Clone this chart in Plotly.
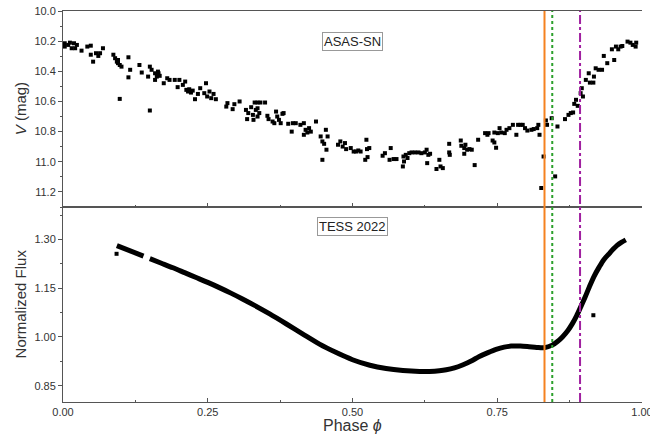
import plotly.graph_objects as go

# ---------------- data ----------------
asas_phase = [
    0.003, 0.003, 0.009, 0.012, 0.015, 0.019, 0.021, 0.024, 0.032, 0.042, 0.048, 0.048, 0.052, 0.057,
    0.061, 0.064, 0.069, 0.087, 0.090, 0.093, 0.095, 0.098, 0.101, 0.095, 0.113, 0.116, 0.113, 0.098,
    0.132, 0.136, 0.147, 0.150, 0.153, 0.159, 0.162, 0.159, 0.164, 0.150,
    0.165, 0.167, 0.174, 0.180, 0.184, 0.193, 0.198, 0.201, 0.207, 0.211, 0.213, 0.216, 0.218, 0.221,
    0.224, 0.228, 0.233, 0.237, 0.244, 0.247, 0.249, 0.253, 0.256, 0.260, 0.264, 0.282, 0.284, 0.293,
    0.296, 0.305, 0.316, 0.318, 0.320, 0.325, 0.328, 0.329, 0.331, 0.333,
    0.336, 0.341, 0.349, 0.336, 0.339, 0.336, 0.353, 0.355, 0.362, 0.365, 0.368, 0.370, 0.373, 0.376,
    0.379, 0.381, 0.389, 0.395, 0.397, 0.402, 0.410, 0.416, 0.416, 0.419, 0.422, 0.425, 0.428, 0.437,
    0.445, 0.448, 0.451, 0.454, 0.457, 0.455, 0.448, 0.475, 0.479, 0.483, 0.487, 0.489, 0.497, 0.502,
    0.506, 0.510, 0.514, 0.524, 0.525, 0.529, 0.522, 0.526, 0.552, 0.556, 0.566, 0.564, 0.571, 0.576,
    0.587, 0.589, 0.588, 0.592, 0.595, 0.598, 0.602, 0.608, 0.614, 0.619, 0.625, 0.628, 0.631, 0.634,
    0.629, 0.645, 0.650, 0.652, 0.656, 0.667, 0.667, 0.668,
    0.687, 0.688, 0.693, 0.695, 0.693, 0.698, 0.702, 0.706, 0.711, 0.717, 0.729, 0.733, 0.735, 0.742,
    0.745, 0.748, 0.745, 0.751, 0.754, 0.757, 0.763, 0.766, 0.771, 0.777, 0.783, 0.786, 0.790, 0.794,
    0.798, 0.802, 0.809, 0.813, 0.819, 0.821, 0.823, 0.830, 0.826, 0.834, 0.836,
    0.844, 0.850, 0.854, 0.867, 0.873, 0.877, 0.881, 0.883, 0.886, 0.889, 0.894, 0.896, 0.898, 0.903,
    0.908, 0.910, 0.916, 0.917, 0.920, 0.925, 0.931, 0.934, 0.940, 0.948, 0.952, 0.955, 0.959, 0.963,
    0.966, 0.975, 0.980, 0.984, 0.990, 0.989,
]
asas_mag = [
    10.214, 10.236, 10.225, 10.210, 10.247, 10.214, 10.247, 10.225, 10.263, 10.236, 10.230, 10.290, 10.336, 10.280,
    10.298, 10.280, 10.247, 10.290, 10.313, 10.336, 10.346, 10.358, 10.369, 10.325, 10.307, 10.390, 10.440, 10.583,
    10.358, 10.408, 10.435, 10.369, 10.390, 10.413, 10.435, 10.457, 10.402, 10.660,
    10.413, 10.430, 10.479, 10.446, 10.457, 10.457, 10.505, 10.457, 10.490, 10.468, 10.523, 10.534, 10.519, 10.541,
    10.528, 10.585, 10.550, 10.512, 10.545, 10.479, 10.567, 10.534, 10.578, 10.550, 10.585, 10.634, 10.611, 10.651,
    10.618, 10.600, 10.656, 10.717, 10.677, 10.638, 10.689, 10.722, 10.607, 10.656,
    10.607, 10.607, 10.607, 10.645, 10.677, 10.700, 10.695, 10.717, 10.733, 10.744, 10.667, 10.700, 10.722, 10.744,
    10.682, 10.677, 10.748, 10.800, 10.744, 10.744, 10.755, 10.744, 10.821, 10.788, 10.806, 10.777, 10.800, 10.733,
    10.832, 10.865, 10.881, 10.788, 10.832, 10.920, 10.987, 10.887, 10.865, 10.899, 10.876, 10.916, 10.909, 10.932,
    10.932, 10.925, 10.932, 10.854, 10.916, 10.909, 10.987, 10.969, 10.960, 10.943, 10.909, 10.987, 10.982, 10.982,
    11.031, 10.998, 10.965, 10.954, 10.975, 10.943, 10.938, 10.938, 10.938, 10.943, 10.938, 10.920, 10.954, 10.947,
    11.009, 11.048, 10.987, 11.031, 11.042, 10.881, 10.938, 10.954,
    10.859, 10.894, 10.909, 10.887, 10.947, 10.920, 10.916, 10.920, 11.022, 10.854, 10.810, 10.821, 10.810, 10.859,
    10.872, 10.907, 10.806, 10.810, 10.777, 10.806, 10.810, 10.788, 10.777, 10.755, 10.821, 10.755, 10.755, 10.755,
    10.777, 10.793, 10.788, 10.783, 10.777, 10.755, 10.821, 10.965, 11.174, 10.726, 10.755,
    10.711, 11.097, 10.766, 10.717, 10.689, 10.677, 10.673, 10.616, 10.589, 10.629, 10.545, 10.512, 10.567, 10.457,
    10.413, 10.475, 10.475, 10.435, 10.380, 10.390, 10.390, 10.298, 10.346, 10.254, 10.325, 10.236, 10.254, 10.236,
    10.232, 10.203, 10.210, 10.225, 10.210, 10.236,
]

# TESS 2022 light curve (two stretches separated by a small data gap)
tess_phase_a = [0.093, 0.105, 0.118, 0.130, 0.139]
tess_flux_a = [1.281, 1.273, 1.265, 1.256, 1.249]
tess_phase_b = [0.150, 0.170, 0.190, 0.210, 0.230, 0.250, 0.270, 0.290, 0.310, 0.330, 0.357, 0.386,
                0.415, 0.443, 0.472, 0.500, 0.530, 0.558, 0.587, 0.616, 0.633, 0.650, 0.662, 0.676,
                0.690, 0.705, 0.719, 0.734, 0.748, 0.762, 0.774, 0.790, 0.805, 0.818, 0.831, 0.845,
                0.854, 0.863, 0.872, 0.880, 0.887, 0.894, 0.902, 0.909, 0.917, 0.926, 0.934, 0.943,
                0.950, 0.957, 0.965, 0.972]
tess_flux_b = [1.241, 1.227, 1.213, 1.198, 1.183, 1.168, 1.152, 1.135, 1.117, 1.098, 1.071, 1.040,
               1.008, 0.978, 0.952, 0.930, 0.913, 0.903, 0.897, 0.894, 0.894, 0.896, 0.899, 0.905,
               0.914, 0.926, 0.940, 0.952, 0.962, 0.969, 0.972, 0.972, 0.970, 0.968, 0.967, 0.975,
               0.986, 1.001, 1.020, 1.042, 1.065, 1.092, 1.124, 1.154, 1.186, 1.215, 1.238, 1.256,
               1.270, 1.282, 1.292, 1.299]
tess_out_phase = [0.0925, 0.916]
tess_out_flux = [1.256, 1.067]

# Marker phases (vertical lines)
line_phases = [0.8316, 0.845, 0.893]
line_colors = ["#F58220", "#2CA02C", "#A020A0"]
line_dashes = ["solid", "dot", "dashdot"]

x_ticks = [0.0, 0.25, 0.5, 0.75, 1.0]
x_ticklabels = ["0.00", "0.25", "0.50", "0.75", "1.00"]
v_ticks = [10.0, 10.2, 10.4, 10.6, 10.8, 11.0, 11.2]
f_ticks = [0.85, 1.00, 1.15, 1.30]

# ---------------- figure ----------------
fig = go.Figure()
fig.add_trace(go.Scatter(x=asas_phase, y=asas_mag, mode="markers",
                         marker=dict(symbol="square", size=4, color="black"),
                         xaxis="x", yaxis="y", showlegend=False))
fig.add_trace(go.Scatter(x=tess_phase_a, y=tess_flux_a, mode="lines",
                         line=dict(color="black", width=5),
                         xaxis="x2", yaxis="y2", showlegend=False))
fig.add_trace(go.Scatter(x=tess_phase_b, y=tess_flux_b, mode="lines",
                         line=dict(color="black", width=5, shape="spline", smoothing=0.8),
                         xaxis="x2", yaxis="y2", showlegend=False))
fig.add_trace(go.Scatter(x=tess_out_phase, y=tess_out_flux, mode="markers",
                         marker=dict(symbol="square", size=4, color="black"),
                         xaxis="x2", yaxis="y2", showlegend=False))

axis_col = "#555555"
FONT = "Liberation Sans, Arial, sans-serif"
tick_font = dict(family=FONT, size=11, color="#333333")
title_font = dict(family=FONT, size=15, color="#333333")
xtitle_font = dict(family=FONT, size=16, color="#333333")

split = 0.4987

common_x = dict(range=[0, 1], showgrid=False, zeroline=False, showline=True, linecolor=axis_col,
                linewidth=1, mirror=True, ticks="inside", ticklen=4, tickcolor=axis_col,
                tickvals=x_ticks, ticktext=x_ticklabels, tickfont=tick_font, automargin=False,
                minor=dict(ticks="inside", ticklen=2, tickcolor=axis_col, dtick=0.125, tick0=0))

fig.update_layout(
    width=650, height=440,
    margin=dict(l=63, r=8, t=11, b=38),
    paper_bgcolor="white", plot_bgcolor="white",
    font=tick_font,
    xaxis=dict(**common_x, domain=[0, 1], anchor="y", showticklabels=False),
    xaxis2=dict(**common_x, domain=[0, 1], anchor="y2", showticklabels=True, matches="x",
                ticklabeloverflow="allow"),
    yaxis=dict(domain=[split, 1], anchor="x", range=[11.3, 10.0], showgrid=False, zeroline=False,
               showline=True, linecolor=axis_col, linewidth=1, ticks="outside", ticklen=4,
               tickcolor=axis_col, tickvals=v_ticks, tickformat=".1f", tickfont=tick_font,
               automargin=False,
               minor=dict(ticks="outside", ticklen=2, tickcolor=axis_col, dtick=0.1, tick0=10.0)),
    yaxis2=dict(domain=[0, split], anchor="x2", range=[0.80, 1.40], showgrid=False, zeroline=False,
                showline=True, linecolor=axis_col, linewidth=1, ticks="outside", ticklen=4,
                tickcolor=axis_col, tickvals=f_ticks, tickformat=".2f", tickfont=tick_font,
                automargin=False,
                minor=dict(ticks="outside", ticklen=2, tickcolor=axis_col, dtick=0.075, tick0=0.85)),
    yaxis3=dict(overlaying="y", anchor="x", side="right", range=[11.3, 10.0], showgrid=False,
                zeroline=False, showline=True, linecolor=axis_col, linewidth=1, ticks="inside",
                ticklen=4, tickcolor=axis_col, tickvals=v_ticks, showticklabels=False,
                automargin=False,
                minor=dict(ticks="inside", ticklen=2, tickcolor=axis_col, dtick=0.1, tick0=10.0)),
    yaxis4=dict(overlaying="y2", anchor="x2", side="right", range=[0.80, 1.40], showgrid=False,
                zeroline=False, showline=True, linecolor=axis_col, linewidth=1, ticks="inside",
                ticklen=4, tickcolor=axis_col, tickvals=f_ticks, showticklabels=False,
                automargin=False,
                minor=dict(ticks="inside", ticklen=2, tickcolor=axis_col, dtick=0.075, tick0=0.85)),
)

for ph, col, dash in zip(line_phases, line_colors, line_dashes):
    fig.add_shape(type="line", xref="x", yref="paper", x0=ph, x1=ph, y0=0, y1=1,
                  line=dict(color=col, width=2, dash=dash), layer="above")

# axis titles
fig.add_annotation(text="<i>V</i> (mag)", xref="paper", yref="paper", x=-0.074, y=0.749,
                   textangle=-90, showarrow=False, font=title_font, xanchor="center", yanchor="middle")
fig.add_annotation(text="Normalized Flux", xref="paper", yref="paper", x=-0.074, y=0.25,
                   textangle=-90, showarrow=False, font=title_font, xanchor="center", yanchor="middle")
fig.add_annotation(text="Phase <i>ϕ</i>", xref="paper", yref="paper", x=0.5, y=-0.059,
                   showarrow=False, font=xtitle_font, xanchor="center", yanchor="middle")

box_font = dict(family=FONT, size=13, color="#222222")
fig.add_annotation(text="ASAS-SN", xref="paper", yref="paper", x=0.5, y=0.946,
                   showarrow=False, font=box_font, bordercolor="#999999", borderwidth=1,
                   borderpad=1, bgcolor="white")
fig.add_annotation(text="TESS 2022", xref="paper", yref="paper", x=0.5, y=0.448,
                   showarrow=False, font=box_font, bordercolor="#999999", borderwidth=1,
                   borderpad=1, bgcolor="white")

fig.write_html("out.html", config={"displayModeBar": False},
               post_script="document.body.style.margin='0';document.body.style.overflow='hidden';")
